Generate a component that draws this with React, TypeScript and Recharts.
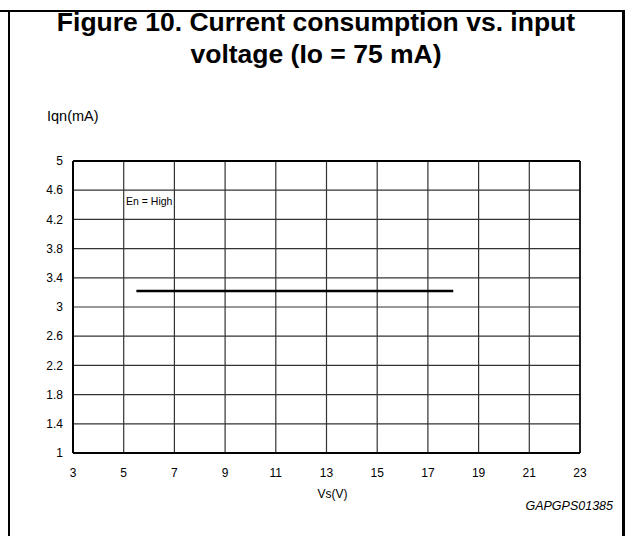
import React from 'react';
import { LineChart, Line, XAxis, YAxis, CartesianGrid, ReferenceLine, Label } from 'recharts';

const vsValues = [5.5, 18];
const iqnValues = [3.22, 3.22];
const xTicks = [3, 5, 7, 9, 11, 13, 15, 17, 19, 21, 23];
const yTicks = [1, 1.4, 1.8, 2.2, 2.6, 3, 3.4, 3.8, 4.2, 4.6, 5];
const titleLines = ['Figure 10. Current consumption vs. input', 'voltage (Io = 75 mA)'];
const yAxisTitle = 'Iqn(mA)';
const xAxisTitle = 'Vs(V)';
const conditionLabel = 'En = High';
const figureCode = 'GAPGPS01385';

const data = vsValues.map((v, i) => ({ vs: v, iqn: iqnValues[i] }));

const FONT = '"Liberation Sans", Arial, Helvetica, sans-serif';

export default function App() {
  return (
    <div style={{ position: 'absolute', left: 0, top: 0, width: 625, height: 536, background: '#fff', fontFamily: FONT, overflow: 'hidden' }}>
      {/* frame */}
      <div style={{ position: 'absolute', left: 0, top: 10, width: 625, height: 2, background: '#000' }} />
      <div style={{ position: 'absolute', left: 8, top: 10, width: 2, height: 526, background: '#000' }} />
      <div style={{ position: 'absolute', left: 622, top: 10, width: 3, height: 526, background: '#000' }} />
      {/* title */}
      <div style={{ position: 'absolute', left: 10, top: 6, width: 612, textAlign: 'center', fontWeight: 'bold', fontSize: 26.5, lineHeight: '32px', color: '#000' }}>
        {titleLines.map((t) => (
          <div key={t}>{t}</div>
        ))}
      </div>
      <div style={{ position: 'absolute', left: 47, top: 108, fontSize: 14.5, color: '#000' }}>{yAxisTitle}</div>
      <div style={{ position: 'absolute', left: 126, top: 195, fontSize: 10.5, color: '#000' }}>{conditionLabel}</div>
      <div style={{ position: 'absolute', right: 12, top: 499, fontSize: 12.5, fontStyle: 'italic', color: '#000' }}>{figureCode}</div>
      <div style={{ position: 'absolute', left: 0, top: 0 }}>
        <LineChart width={625} height={536} data={data} margin={{ top: 161, right: 45, bottom: 53, left: 13 }}>
          <CartesianGrid stroke="#333" strokeWidth={1.2} horizontalValues={yTicks} verticalValues={xTicks} />
          <XAxis
            type="number"
            dataKey="vs"
            domain={[3, 23]}
            ticks={xTicks}
            height={30}
            tickSize={0}
            tickMargin={15}
            axisLine={{ stroke: '#000', strokeWidth: 2 }}
            tickLine={false}
            tick={{ fill: '#000', fontSize: 12, fontFamily: FONT }}
            interval={0}
          >
            <Label value={xAxisTitle} position="bottom" offset={6} dx={6} style={{ fill: '#000', fontSize: 12, fontFamily: FONT }} />
          </XAxis>
          <YAxis
            type="number"
            domain={[1, 5]}
            ticks={yTicks}
            width={60}
            tickSize={0}
            tickMargin={10}
            axisLine={{ stroke: '#000', strokeWidth: 2 }}
            tickLine={false}
            tick={{ fill: '#000', fontSize: 12, fontFamily: FONT }}
            interval={0}
          />
          <ReferenceLine y={5} stroke="#000" strokeWidth={2} />
          <ReferenceLine x={23} stroke="#000" strokeWidth={1.5} />
          <Line type="linear" dataKey="iqn" stroke="#000" strokeWidth={2.5} dot={false} isAnimationActive={false} />
        </LineChart>
      </div>
    </div>
  );
}
